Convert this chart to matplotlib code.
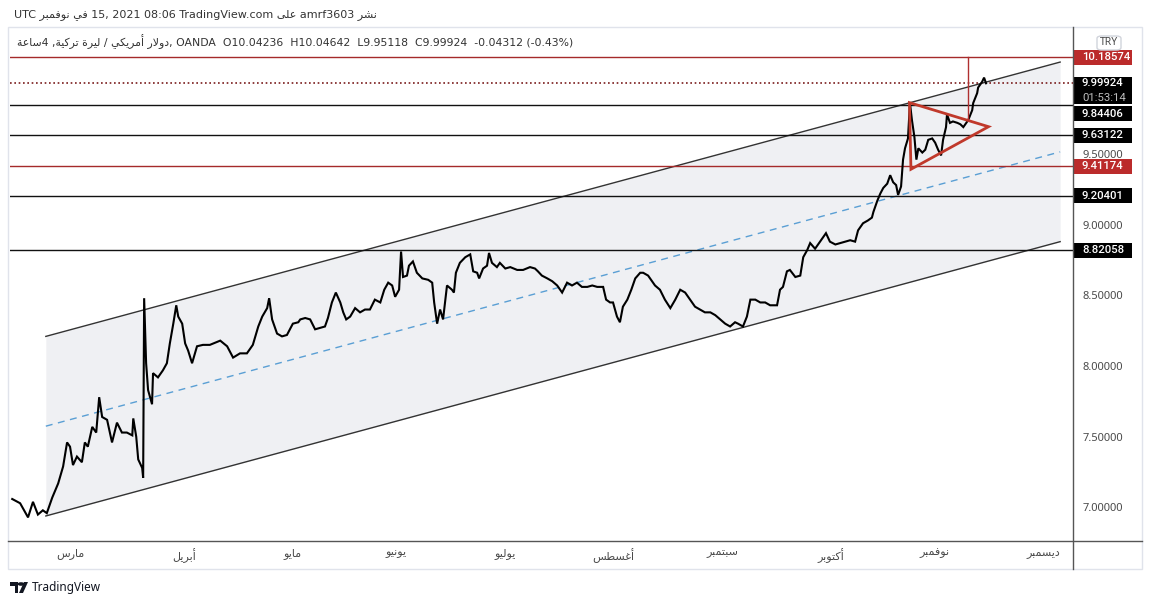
import re

import matplotlib
matplotlib.use("Agg")
import matplotlib.pyplot as plt
import matplotlib.transforms as mtransforms
from matplotlib.lines import Line2D
from matplotlib.patches import Rectangle, Polygon, Circle, FancyBboxPatch

W, H = 1153, 605

# USD/TRY 4h, Feb -> Nov 2021. x = trading days since 1 March 2021
DAYS = [-11.7, -10.1, -8.5, -7.5, -6.5, -5.5, -4.7, -3.6, -2.4, -1.4, -0.6, 0.0, 0.6, 1.4, 2.4, 3.0,
        3.6, 4.5, 5.3, 5.9, 6.5, 7.5, 8.5, 9.5, 10.5, 11.5, 12.6, 12.8, 13.4, 13.8, 14.6, 14.8,
        15.0, 15.4, 15.8, 16.6, 16.8, 17.8, 18.8, 19.6, 20.2, 20.9, 21.5, 21.9, 22.7, 23.3, 23.9,
        24.7, 25.7, 26.9, 28.3, 30.4, 31.8, 33.0, 34.4, 35.8, 37.0, 38.1, 38.9, 39.9, 40.3, 40.9,
        41.9, 42.9, 43.9, 45.1, 46.2, 46.6, 47.6, 48.6, 49.6, 50.6, 51.6, 52.2, 53.0, 53.8, 54.7,
        55.3, 55.9, 56.7, 57.7, 58.7, 59.7, 60.7, 61.7, 62.8, 63.6, 64.4, 65.2, 65.8, 66.6, 67.0,
        67.4, 68.2, 68.6, 69.4, 70.2, 71.3, 72.5, 73.3, 73.7, 74.3, 74.9, 75.5, 76.3, 77.3, 77.7,
        78.1, 78.9, 80.0, 81.0, 81.6, 82.4, 82.8, 83.6, 84.4, 84.8, 85.4, 86.4, 87.0, 88.1, 89.1,
        90.5, 91.7, 93.1, 94.1, 94.7, 95.5, 96.6, 97.6, 98.6, 99.6, 100.6, 101.6, 102.6, 103.6,
        104.7, 105.7, 106.7, 107.9, 108.5, 109.3, 109.9, 110.7, 111.3, 111.9, 112.8, 113.6,
        114.4, 115.4, 116.0, 117.0, 118.4, 119.4, 120.4, 121.5, 122.5, 123.5, 124.5, 125.5,
        126.5, 127.5, 128.5, 129.6, 130.6, 131.6, 132.6, 133.6, 134.6, 135.2, 136.2, 137.0,
        137.7, 138.7, 139.7, 140.7, 141.7, 143.1, 143.7, 144.3, 145.1, 145.7, 146.8, 147.8,
        148.4, 149.2, 149.8, 150.8, 151.8, 153.0, 153.8, 154.9, 155.9, 156.9, 157.9, 158.9,
        159.5, 160.5, 161.5, 162.3, 162.6, 163.4, 164.0, 164.6, 165.4, 166.0, 166.6, 167.2,
        167.6, 168.2, 168.6, 169.0, 169.6, 170.0, 170.4, 170.9, 171.3, 171.7, 172.5, 173.1,
        173.7, 174.5, 175.1, 175.7, 176.3, 176.7, 177.3, 177.5, 178.1, 178.7, 179.6, 180.2,
        180.8, 181.4, 181.8, 182.6, 182.8, 183.6, 183.8, 184.6, 185.0, 185.4]
CLOSE = [7.06, 7.03, 6.93, 7.04, 6.95, 6.98, 6.96, 7.07, 7.17, 7.29, 7.46, 7.43, 7.30, 7.36, 7.32, 7.46,
         7.43, 7.57, 7.53, 7.78, 7.64, 7.62, 7.46, 7.60, 7.53, 7.53, 7.51, 7.63, 7.50, 7.34, 7.28, 7.21,
         8.48, 8.02, 7.83, 7.73, 7.95, 7.92, 7.97, 8.02, 8.16, 8.30, 8.43, 8.35, 8.30, 8.16, 8.11,
         8.02, 8.14, 8.15, 8.15, 8.18, 8.14, 8.06, 8.09, 8.09, 8.15, 8.28, 8.35, 8.41, 8.48, 8.33,
         8.23, 8.21, 8.22, 8.30, 8.31, 8.33, 8.34, 8.33, 8.26, 8.27, 8.28, 8.34, 8.45, 8.52, 8.45,
         8.38, 8.33, 8.35, 8.41, 8.38, 8.40, 8.40, 8.47, 8.45, 8.54, 8.59, 8.57, 8.49, 8.54, 8.81,
         8.63, 8.64, 8.71, 8.74, 8.66, 8.62, 8.61, 8.59, 8.45, 8.30, 8.40, 8.33, 8.57, 8.54, 8.52,
         8.66, 8.73, 8.77, 8.79, 8.67, 8.66, 8.62, 8.69, 8.71, 8.80, 8.73, 8.70, 8.73, 8.69, 8.70,
         8.68, 8.68, 8.70, 8.69, 8.67, 8.64, 8.62, 8.60, 8.57, 8.52, 8.59, 8.57, 8.59, 8.56,
         8.56, 8.57, 8.56, 8.56, 8.47, 8.45, 8.45, 8.35, 8.31, 8.42, 8.47, 8.54,
         8.62, 8.66, 8.66, 8.64, 8.57, 8.54, 8.47, 8.41, 8.47, 8.54, 8.52, 8.47,
         8.42, 8.40, 8.38, 8.38, 8.36, 8.33, 8.30, 8.28, 8.31, 8.30, 8.28, 8.35,
         8.47, 8.47, 8.45, 8.45, 8.43, 8.43, 8.54, 8.56, 8.67, 8.68, 8.63, 8.64,
         8.77, 8.82, 8.87, 8.83, 8.88, 8.94, 8.88, 8.86, 8.87, 8.88, 8.89, 8.88,
         8.96, 9.01, 9.03, 9.05, 9.09, 9.17, 9.22, 9.26, 9.29, 9.35, 9.30, 9.28,
         9.21, 9.27, 9.46, 9.54, 9.61, 9.86, 9.74, 9.62, 9.46, 9.54, 9.51, 9.53,
         9.60, 9.61, 9.58, 9.53, 9.49, 9.60, 9.69, 9.78, 9.72, 9.73, 9.72, 9.71,
         9.69, 9.72, 9.74, 9.81, 9.86, 9.93, 9.97, 10.01, 10.04, 10.00]

# parallel channel drawn on the chart
CHANNEL_DAYS = [-4.9, 200.4]
CHANNEL_TOP = [8.21, 10.15]
CHANNEL_BOTTOM = [6.94, 8.88]

# horizontal levels
BLACK_LEVELS = [9.84406, 9.63122, 9.20401, 8.82058]
RED_LEVELS = [10.18574, 9.41174]
LAST_PRICE = 9.99924
COUNTDOWN = "01:53:14"

# symmetrical triangle + breakout line
TRIANGLE_DAYS = [169.9, 185.9, 170.2]
TRIANGLE_PRICES = [9.863, 9.693, 9.392]
BREAKOUT_DAY = 181.8
BREAKOUT_FROM = 9.74

PRICE_TICKS = [7.0, 7.5, 8.0, 8.5, 9.0, 9.5]
MONTH_DAYS = [0, 23, 45, 66, 88, 110, 132, 154, 175, 197]
MONTH_LABELS = ["مارس", "أبريل", "مايو", "يونيو", "يوليو", "أغسطس", "سبتمبر", "أكتوبر",
                "نوفمبر", "ديسمبر"]

RED = "#bb2b2b"
LINE_RED = "#a52a2a"
TEXT = "#4a4a4a"
NUM_FONT = "Noto Sans"
BOX_FONT = ["Roboto", "Noto Sans", "DejaVu Sans"]
AR_FONT = "DejaVu Sans"

# --- minimal Arabic shaping (matplotlib has no complex text layout) ---------
AR_FORMS = {
    "ء": (0xFE80, 1), "آ": (0xFE81, 2), "أ": (0xFE83, 2), "ؤ": (0xFE85, 2), "إ": (0xFE87, 2),
    "ئ": (0xFE89, 4), "ا": (0xFE8D, 2), "ب": (0xFE8F, 4), "ة": (0xFE93, 2), "ت": (0xFE95, 4),
    "ث": (0xFE99, 4), "ج": (0xFE9D, 4), "ح": (0xFEA1, 4), "خ": (0xFEA5, 4), "د": (0xFEA9, 2),
    "ذ": (0xFEAB, 2), "ر": (0xFEAD, 2), "ز": (0xFEAF, 2), "س": (0xFEB1, 4), "ش": (0xFEB5, 4),
    "ص": (0xFEB9, 4), "ض": (0xFEBD, 4), "ط": (0xFEC1, 4), "ظ": (0xFEC5, 4), "ع": (0xFEC9, 4),
    "غ": (0xFECD, 4), "ف": (0xFED1, 4), "ق": (0xFED5, 4), "ك": (0xFED9, 4), "ل": (0xFEDD, 4),
    "م": (0xFEE1, 4), "ن": (0xFEE5, 4), "ه": (0xFEE9, 4), "و": (0xFEED, 2), "ى": (0xFEEF, 2),
    "ي": (0xFEF1, 4),
}
LAM_ALEF = {"ا": 0xFEFB, "أ": 0xFEF7, "إ": 0xFEF9, "آ": 0xFEF5}


def shape_arabic(text):
    out = []
    i, n = 0, len(text)
    while i < n:
        ch = text[i]
        if ch not in AR_FORMS:
            out.append(ch)
            i += 1
            continue
        prev = text[i - 1] if i > 0 else ""
        joins_prev = prev in AR_FORMS and AR_FORMS[prev][1] == 4
        if ch == "ل" and i + 1 < n and text[i + 1] in LAM_ALEF:
            out.append(chr(LAM_ALEF[text[i + 1]] + (1 if joins_prev else 0)))
            i += 2
            continue
        base, nforms = AR_FORMS[ch]
        nxt = text[i + 1] if i + 1 < n else ""
        joins_next = nforms == 4 and nxt in AR_FORMS
        if joins_prev and joins_next:
            cp = base + 3
        elif joins_prev:
            cp = base + 1 if nforms > 1 else base
        elif joins_next:
            cp = base + 2
        else:
            cp = base
        out.append(chr(cp))
        i += 1
    return "".join(out)


def rtl(text):
    """Shape and put an Arabic run into visual (left-to-right) order."""
    runs = re.findall(r"[0-9A-Za-z.:%]+|.", shape_arabic(text))
    return "".join(reversed(runs))


def fx(px):
    return px / W


def fy(py):
    return 1 - py / H


fig = plt.figure(figsize=(W / 100, H / 100), dpi=100)
fig.patch.set_facecolor("white")

ax_left, ax_right, ax_top, ax_bottom = 10, 1073, 27, 541
ax = fig.add_axes([fx(ax_left), fy(ax_bottom), fx(ax_right - ax_left), (ax_bottom - ax_top) / H])
ax.set_xlim(-12.15, 203.0)
ax.set_ylim(6.763, 10.398)
for s in ax.spines.values():
    s.set_visible(False)
px_per_unit = (ax_bottom - ax_top) / (10.398 - 6.763)

# channel
ax.fill_between(CHANNEL_DAYS, CHANNEL_BOTTOM, CHANNEL_TOP, color="#eff0f3", lw=0, zorder=1)
ax.plot(CHANNEL_DAYS, CHANNEL_TOP, color="#333333", lw=1.0, zorder=2)
ax.plot(CHANNEL_DAYS, CHANNEL_BOTTOM, color="#333333", lw=1.0, zorder=2)
channel_mid = [(a + b) / 2 for a, b in zip(CHANNEL_TOP, CHANNEL_BOTTOM)]
ax.plot(CHANNEL_DAYS, channel_mid, color="#5a9fd4", lw=1.0, dashes=(5, 4), zorder=2)

# levels
for lv in BLACK_LEVELS:
    ax.axhline(lv, color="#111111", lw=1.0, zorder=3)
for lv in RED_LEVELS:
    ax.axhline(lv, color=LINE_RED, lw=1.0, zorder=3)
ax.axhline(LAST_PRICE, color="#7a1c1c", lw=1.2, ls=(0, (1, 1.6)), zorder=3)

# price
ax.plot(DAYS, CLOSE, color="black", lw=1.5, zorder=5, solid_joinstyle="miter")

# triangle + breakout
ax.add_patch(Polygon(list(zip(TRIANGLE_DAYS, TRIANGLE_PRICES)), closed=True, fill=False,
                     edgecolor="#c0392b", lw=2.0, zorder=6))
ax.plot([BREAKOUT_DAY, BREAKOUT_DAY], [BREAKOUT_FROM, RED_LEVELS[0]], color="#b03030", lw=1.0,
        zorder=6)

# axes ticks
ax.yaxis.tick_right()
ax.set_yticks(PRICE_TICKS, [f"{v:.5f}" for v in PRICE_TICKS])
ax.tick_params(axis="y", length=0, pad=7, labelsize=8, labelcolor=TEXT)
for t in ax.get_yticklabels():
    t.set_fontfamily(NUM_FONT)
ax.set_xticks(MONTH_DAYS, [rtl(m) for m in MONTH_LABELS])
ax.tick_params(axis="x", length=0, pad=5, labelsize=8, labelcolor=TEXT)
for t in ax.get_xticklabels():
    t.set_fontfamily(AR_FONT)

# price-scale labels
trans = mtransforms.blended_transform_factory(ax.transAxes, ax.transData)
box_x0 = 1.0
box_w = (1132 - ax_left) / (ax_right - ax_left) - 1.0
text_x = (1082 - ax_left) / (ax_right - ax_left)
box_h = 15 / px_per_unit


def price_label(value, face, shift_px=0.0):
    # shift_px: the price scale pushes a label down when it would overlap another
    y = value - shift_px / px_per_unit
    ax.add_patch(Rectangle((box_x0, y - box_h / 2), box_w, box_h, transform=trans,
                           facecolor=face, edgecolor="none", clip_on=False, zorder=10))
    ax.text(text_x, y, f"{value:.5f}", transform=trans, ha="left", va="center",
            color="white", fontsize=8.2, fontweight="medium", family=BOX_FONT, clip_on=False,
            zorder=11)


price_label(BLACK_LEVELS[0], "black", shift_px=8.5)
for lv in BLACK_LEVELS[1:]:
    price_label(lv, "black")
for lv in RED_LEVELS:
    price_label(lv, RED)

# last price with countdown
top = LAST_PRICE + 6.5 / px_per_unit
bottom = LAST_PRICE - 21 / px_per_unit
ax.add_patch(Rectangle((box_x0, bottom), box_w, top - bottom, transform=trans, facecolor="black",
                       edgecolor="none", clip_on=False, zorder=10))
ax.text(text_x, LAST_PRICE, f"{LAST_PRICE:.5f}", transform=trans, ha="left", va="center",
        color="white", fontsize=8.2, fontweight="medium", family=BOX_FONT, clip_on=False,
        zorder=11)
ax.text(text_x, LAST_PRICE - 14.5 / px_per_unit, COUNTDOWN, transform=trans, ha="left",
        va="center", color="#bdbdbd", fontsize=8.2, family=BOX_FONT, clip_on=False, zorder=11)

# frame and pane separators
fig.add_artist(Rectangle((fx(8), fy(569)), fx(1142 - 8), (569 - 27) / H, transform=fig.transFigure,
                         fill=False, edgecolor="#e0e3eb", lw=1.0))
fig.add_artist(Line2D([fx(8), fx(1142)], [fy(541), fy(541)], transform=fig.transFigure,
                      color="#555555", lw=1.0))
fig.add_artist(Line2D([fx(1073), fx(1073)], [fy(27), fy(569)], transform=fig.transFigure,
                      color="#555555", lw=1.0))

# currency badge
fig.add_artist(FancyBboxPatch((fx(1097), fy(50)), fx(24), 14 / H,
                              boxstyle="round,pad=0,rounding_size=0.004",
                              transform=fig.transFigure, facecolor="white", edgecolor="#d1d4dc",
                              lw=1.0))
fig.text(fx(1109), fy(42.5), "TRY", ha="center", va="center", fontsize=7.5, color=TEXT,
         family=NUM_FONT)

# header
header1 = ("UTC " + rtl("في نوفمبر") + " 15, 2021 08:06 TradingView.com " + rtl("على")
           + " amrf3603 " + rtl("نشر"))
fig.text(fx(14), fy(14.5), header1, ha="left", va="center", fontsize=8, color="#333333",
         family=AR_FONT)
header2 = (rtl("دولار أمريكي / ليرة تركية, 4ساعة")
           + ", OANDA  O10.04236  H10.04642  L9.95118  C9.99924  -0.04312 (-0.43%)")
fig.text(fx(17), fy(42), header2, ha="left", va="center", fontsize=7.8, color="#333333",
         family=AR_FONT)

# TradingView logo
logo_c = "#131722"
fig.add_artist(Polygon([(fx(10), fy(582)), (fx(18), fy(582)), (fx(18), fy(593)), (fx(14.5), fy(593)),
                        (fx(14.5), fy(585.5)), (fx(10), fy(585.5))], closed=True,
                       transform=fig.transFigure, facecolor=logo_c, edgecolor="none"))
fig.add_artist(Circle((fx(21), fy(584)), 1.8 / H, transform=fig.transFigure, facecolor=logo_c,
                      edgecolor="none"))
fig.add_artist(Polygon([(fx(19), fy(593)), (fx(23), fy(593)), (fx(28), fy(582)), (fx(24), fy(582))],
                       closed=True, transform=fig.transFigure, facecolor=logo_c, edgecolor="none"))
fig.text(fx(32), fy(587), "TradingView", ha="left", va="center", fontsize=8.5, color=logo_c,
         family=NUM_FONT)

fig.savefig("out.png", dpi=100)
